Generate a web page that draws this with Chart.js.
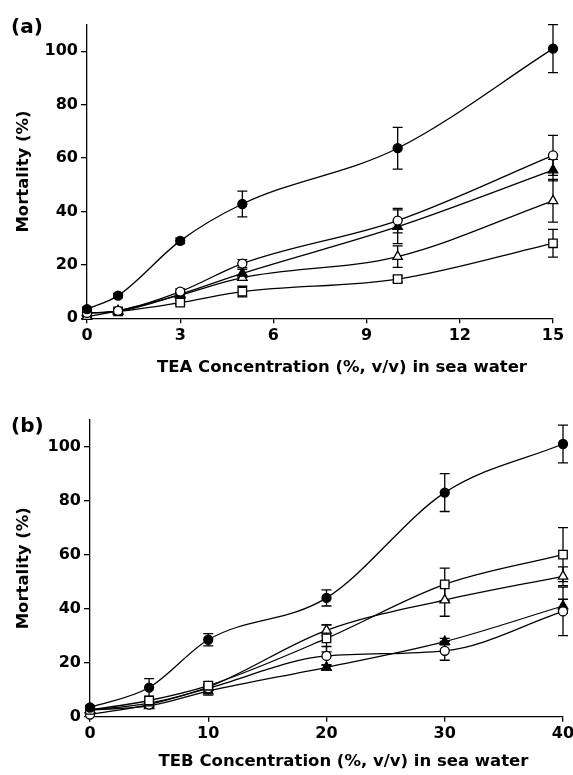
<!DOCTYPE html>
<html>
<head>
<meta charset="utf-8">
<script src="https://cdn.jsdelivr.net/npm/chart.js@4.4.1/dist/chart.umd.min.js"></script>
<style>
  html, body { margin: 0; padding: 0; background: #fff; }
  .panel { position: relative; width: 573px; }
  #panelA { height: 385px; }
  #panelB { height: 390px; }
  canvas { display: block; }
</style>
</head>
<body>
<div class="panel" id="panelA"><canvas id="chartA" width="573" height="385"></canvas></div>
<div class="panel" id="panelB"><canvas id="chartB" width="573" height="390"></canvas></div>
<script>
// Panel (a) - TEA
const teaConc = [0, 1, 3, 5, 10, 15];
const teaTicks = [0, 3, 6, 9, 12, 15];
const teaFilledCircle = [3.4, 8.5, 29, 42.8, 63.7, 101];
const teaFilledCircleErr = [0.8, 0.8, 1, 4.8, 7.8, 9];
const teaOpenCircle = [2, 2.8, 10, 20.5, 36.6, 61];
const teaOpenCircleErr = [0.5, 0.5, 1, 1.5, 4.6, 7.5];
const teaFilledTriangle = [2, 2.6, 9, 16.8, 34.3, 55.5];
const teaFilledTriangleErr = [0.5, 0.5, 1, 1.5, 6.3, 4];
const teaOpenTriangle = [0.6, 2.8, 8.7, 15.2, 23.1, 44];
const teaOpenTriangleErr = [0.5, 0.5, 1, 1, 4, 8];
const teaOpenSquare = [2, 2.6, 5.9, 10, 14.7, 28.1];
const teaOpenSquareErr = [0.5, 0.5, 0.8, 2, 1.2, 5.2];

// Panel (b) - TEB
const tebConc = [0, 5, 10, 20, 30, 40];
const tebTicks = [0, 10, 20, 30, 40];
const tebFilledCircle = [3.4, 10.8, 28.5, 44, 83, 101];
const tebFilledCircleErr = [0.8, 3.3, 2.3, 3, 7, 7];
const tebOpenSquare = [2.5, 6, 11.5, 29, 49, 60];
const tebOpenSquareErr = [0.5, 1, 1.5, 5, 6, 10];
const tebOpenTriangle = [2.5, 5, 11, 32, 43.2, 52];
const tebOpenTriangleErr = [0.5, 1, 1, 2, 6, 3.5];
const tebOpenCircle = [0.8, 4.5, 10.5, 22.5, 24.4, 39];
const tebOpenCircleErr = [0.5, 0.8, 1, 3.5, 3.5, 9];
const tebFilledTriangle = [2.5, 4, 9.5, 18.3, 27.8, 41];
const tebFilledTriangleErr = [0.5, 0.5, 1.5, 1, 1.2, 2.5];

const mortalityTicks = [0, 20, 40, 60, 80, 100];

Chart.defaults.font.family = '"DejaVu Sans", sans-serif';
Chart.defaults.font.weight = 'bold';
Chart.defaults.color = '#000';

// vertical error bars with caps, drawn under the markers
const errorBars = {
  id: 'errorBars',
  beforeDatasetsDraw(chart) {
    const {ctx, scales: {x, y}} = chart;
    ctx.save();
    ctx.strokeStyle = '#000';
    ctx.lineWidth = 1.3;
    chart.data.datasets.forEach(ds => {
      if (!ds.errors) return;
      ds.data.forEach((p, i) => {
        const e = ds.errors[i];
        if (!e) return;
        const px = x.getPixelForValue(p.x);
        const top = y.getPixelForValue(p.y + e);
        const bot = y.getPixelForValue(p.y - e);
        ctx.beginPath();
        ctx.moveTo(px, top); ctx.lineTo(px, bot);
        ctx.moveTo(px - 5, top); ctx.lineTo(px + 5, top);
        ctx.moveTo(px - 5, bot); ctx.lineTo(px + 5, bot);
        ctx.stroke();
      });
    });
    ctx.restore();
  }
};

// panel letter and x axis title
const panelText = {
  id: 'panelText',
  afterDraw(chart, args, opts) {
    const {ctx, chartArea} = chart;
    ctx.save();
    ctx.fillStyle = '#000';
    ctx.textBaseline = 'middle';
    ctx.textAlign = 'left';
    ctx.font = 'bold 20px "DejaVu Sans"';
    ctx.fillText(opts.letter, opts.letterX, opts.letterY);
    ctx.textAlign = 'center';
    ctx.font = 'bold 16.5px "DejaVu Sans"';
    ctx.fillText(opts.xTitle, (chartArea.left + chartArea.right) / 2 + opts.titleShift, chartArea.bottom + opts.titleGap);
    ctx.restore();
  }
};

function series(xs, ys, errs, shape, filled) {
  const radius = shape === 'circle' ? 4.5 : (shape === 'triangle' ? 5.5 : 6);
  return {
    data: xs.map((x, i) => ({x: x, y: ys[i]})),
    errors: errs,
    borderColor: '#000',
    borderWidth: 1.3,
    pointStyle: shape,
    pointRadius: radius,
    pointBackgroundColor: filled ? '#000' : '#fff',
    pointBorderColor: '#000',
    pointBorderWidth: 1.3,
    cubicInterpolationMode: 'monotone',
    clip: false,
    fill: false
  };
}

function makeChart(id, datasets, xTicks, xMax, yWidth, xHeight, pad, textOpts) {
  return new Chart(document.getElementById(id), {
    type: 'line',
    data: { datasets: datasets },
    plugins: [errorBars, panelText],
    options: {
      responsive: false,
      animation: false,
      devicePixelRatio: 1,
      layout: { padding: pad },
      plugins: {
        legend: { display: false },
        tooltip: { enabled: false },
        panelText: textOpts
      },
      scales: {
        x: {
          type: 'linear',
          min: 0,
          max: xMax,
          afterBuildTicks: s => { s.ticks = xTicks.map(v => ({value: v})); },
          afterFit: s => { s.height = xHeight; s.paddingLeft = 0; s.paddingRight = 0; },
          grid: { display: true, drawOnChartArea: false, drawTicks: true, tickLength: 5, color: '#000', lineWidth: 1.3 },
          border: { display: true, color: '#000', width: 1.3 },
          ticks: { font: { size: 16, weight: 'bold' }, padding: 3, maxRotation: 0 }
        },
        y: {
          min: 0,
          max: 110,
          afterBuildTicks: s => { s.ticks = mortalityTicks.map(v => ({value: v})); },
          afterFit: s => { s.width = yWidth; },
          grid: { display: true, drawOnChartArea: false, drawTicks: true, tickLength: 6, color: '#000', lineWidth: 1.3 },
          border: { display: true, color: '#000', width: 1.3 },
          ticks: { font: { size: 16, weight: 'bold' }, padding: 3 },
          title: {
            display: true,
            text: 'Mortality (%)',
            font: { size: 16.5, weight: 'bold' },
            padding: { top: 14, bottom: 0 }
          }
        }
      }
    }
  });
}

makeChart('chartA', [
  series(teaConc, teaFilledCircle, teaFilledCircleErr, 'circle', true),
  series(teaConc, teaOpenCircle, teaOpenCircleErr, 'circle', false),
  series(teaConc, teaFilledTriangle, teaFilledTriangleErr, 'triangle', true),
  series(teaConc, teaOpenTriangle, teaOpenTriangleErr, 'triangle', false),
  series(teaConc, teaOpenSquare, teaOpenSquareErr, 'rect', false)
], teaTicks, 15, 87, 66.7, { left: 0, right: 20, top: 24.6, bottom: 0 },
  { letter: '(a)', letterX: 11, letterY: 28, xTitle: 'TEA Concentration (%, v/v) in sea water', titleShift: 22, titleGap: 49 });

makeChart('chartB', [
  series(tebConc, tebFilledCircle, tebFilledCircleErr, 'circle', true),
  series(tebConc, tebOpenSquare, tebOpenSquareErr, 'rect', false),
  series(tebConc, tebOpenTriangle, tebOpenTriangleErr, 'triangle', false),
  series(tebConc, tebOpenCircle, tebOpenCircleErr, 'circle', false),
  series(tebConc, tebFilledTriangle, tebFilledTriangleErr, 'triangle', true)
], tebTicks, 40, 90, 58.3, { left: 0, right: 10, top: 34.7, bottom: 0 },
  { letter: '(b)', letterX: 11, letterY: 42, xTitle: 'TEB Concentration (%, v/v) in sea water', titleShift: 17, titleGap: 45 });
</script>
</body>
</html>
